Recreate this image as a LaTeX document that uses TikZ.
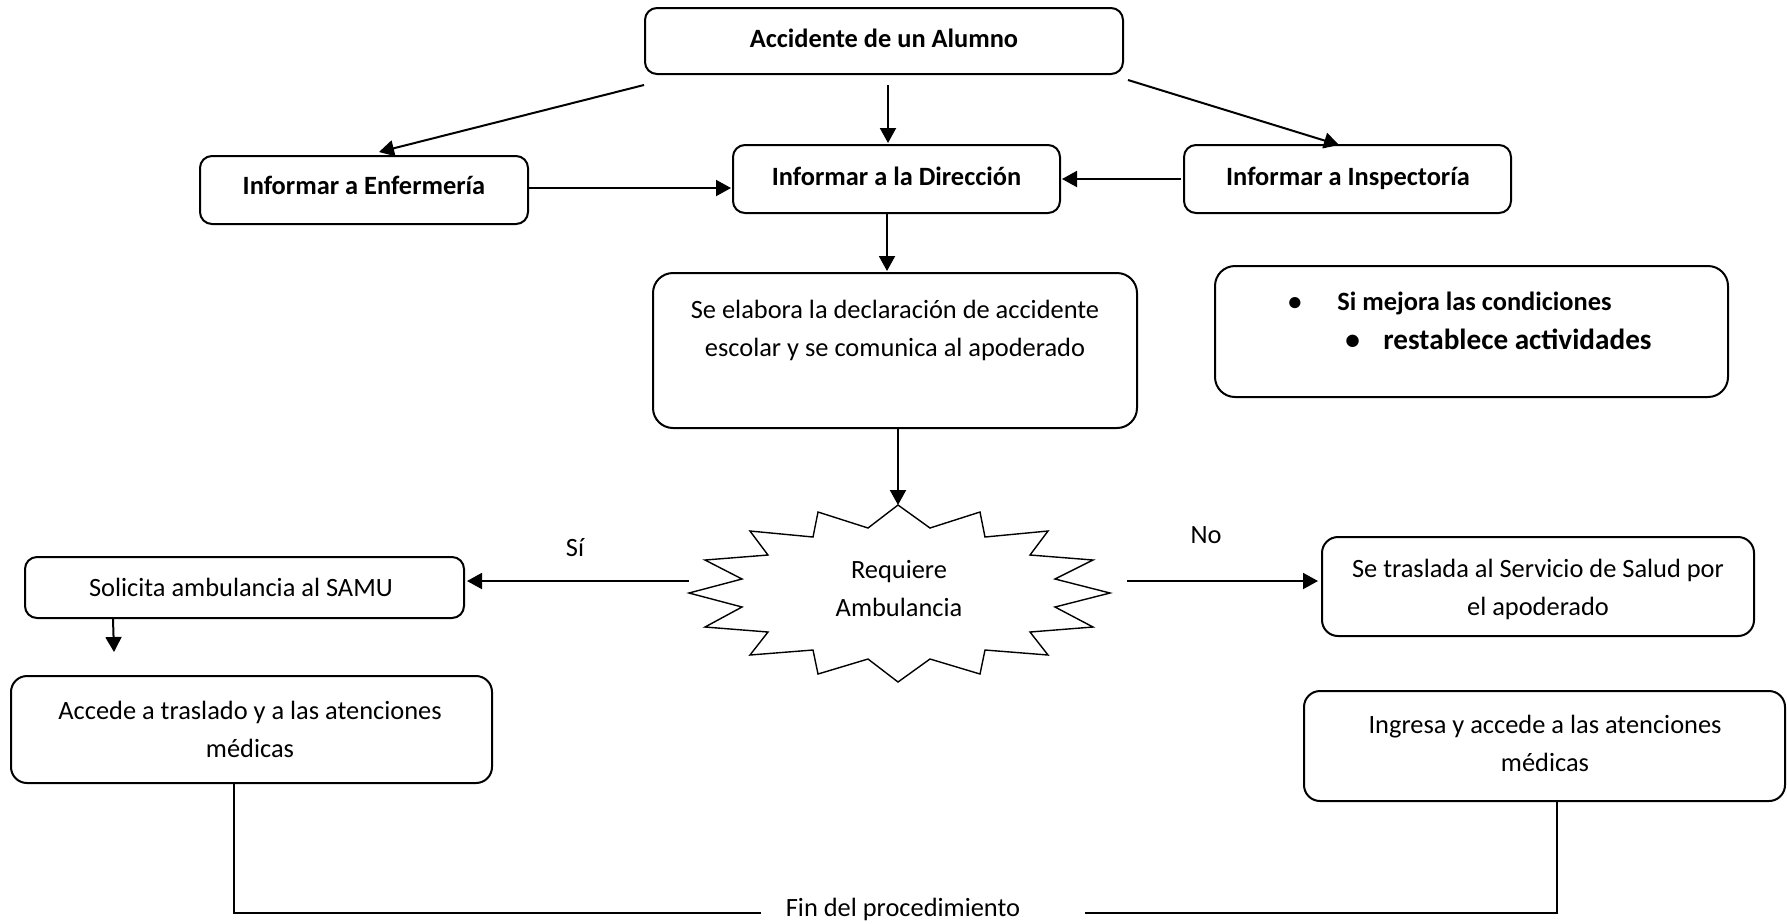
\documentclass[tikz,border=0pt]{standalone}
\usepackage{fontspec}
\setmainfont{Carlito}
\usetikzlibrary{arrows.meta,calc}
\begin{document}
\begin{tikzpicture}[x=0.5pt,y=-0.5pt,
  box/.style={draw, line width=1pt, rounded corners=6pt, inner sep=0pt},
  arr/.style={line width=1pt, -{Triangle[length=7.5pt,width=8pt]}},
  ln/.style={line width=1pt},
  txt/.style={inner sep=0pt, font=\fontsize{13.2}{19}\selectfont, anchor=base, align=center},
  btxt/.style={inner sep=0pt, font=\fontsize{13.2}{19}\selectfont\bfseries, anchor=base, align=center},
  star/.style={line width=0.7pt, line join=miter}]
\path[use as bounding box] (0,0) rectangle (1787,923);

% boxes
\node[box, minimum width=239pt, minimum height=33pt] (acc) at (884,41) {};
\node[box, minimum width=164pt, minimum height=34pt] (enf) at (364,190) {};
\node[box, minimum width=163.5pt, minimum height=34pt] (dir) at (896.5,179) {};
\node[box, minimum width=163.5pt, minimum height=34pt] (insp) at (1347.5,179) {};
\node[box, rounded corners=10pt, minimum width=242pt, minimum height=77.5pt] (elab) at (895,350.5) {};
\node[box, rounded corners=10pt, minimum width=256.5pt, minimum height=65.5pt] (mej) at (1471.5,331.5) {};
\node[box, minimum width=219.5pt, minimum height=30.5pt] (sol) at (244.5,587.5) {};
\node[box, rounded corners=8pt, minimum width=240.5pt, minimum height=53.5pt] (acce) at (251.5,729.5) {};
\node[box, rounded corners=8pt, minimum width=216pt, minimum height=49.5pt] (tras) at (1538,586.5) {};
\node[box, rounded corners=8pt, minimum width=240.5pt, minimum height=55pt] (ingr) at (1544.5,746) {};

% starburst
\draw[star] (898,505) -- (930,528) -- (980,512) -- (985,537) -- (1048,531) -- (1030,555)
  -- (1093,560) -- (1055,579) -- (1110,593) -- (1055,607) -- (1093,627) -- (1030,632)
  -- (1048,655) -- (985,650) -- (980,674) -- (930,659) -- (898,682) -- (868,659)
  -- (818,674) -- (813,650) -- (750,655) -- (768,632) -- (705,627) -- (742,607)
  -- (689,593) -- (742,579) -- (705,560) -- (768,555) -- (750,531) -- (813,537)
  -- (818,512) -- (868,528) -- cycle;
\coordinate (stTop) at (898,505);
\coordinate (stLeft) at (689,593);
\coordinate (stRight) at (1110,593);

% texts (multi-line nodes: base = last line)
\node[btxt] (tacc) at (884,47) {Accidente de un Alumno};
\node[btxt] (tenf) at (364,194) {Informar a Enfermería};
\node[btxt] (tdir) at (896.5,185) {Informar a la Dirección};
\node[btxt] (tinsp) at (1348,185) {Informar a Inspectoría};
\node[txt] (telab) at (895,356) {Se elabora la declaración de accidente\\escolar y se comunica al apoderado};
\node[btxt, anchor=base west] (tm1) at (1288,310) {\makebox[24.5pt][l]{\textbullet}Si mejora las condiciones};
\node[btxt, anchor=base west, font=\fontsize{14.6}{19}\selectfont\bfseries] (tm2) at (1345,349) {\makebox[19pt][l]{\textbullet}restablece actividades};
\node[txt] (treq) at (899,616) {Requiere\\Ambulancia};
\node[txt] (tsol) at (241,596) {Solicita ambulancia al SAMU};
\node[txt] (tacce) at (250,757) {Accede a traslado y a las atenciones\\médicas};
\node[txt] (ttras) at (1538,615.5) {Se traslada al Servicio de Salud por\\el apoderado};
\node[txt] (tingr) at (1545,771) {Ingresa y accede a las atenciones\\médicas};
\node[txt] (si) at (575,556) {Sí};
\node[txt] (no) at (1206,543) {No};
\node[txt] (fin) at (903,916) {Fin del procedimiento};

% connectors
\draw[arr] ($(acc.south west)+(0,10)$) -- ($(enf.north)+(15,-3)$);
\draw[arr] ($(acc.south)+(4,10)$) -- ($(dir.north)+(-8.5,-1)$);
\draw[arr] ($(acc.south east)+(4,5)$) -- ($(insp.north)+(-8.5,1)$);
\draw[arr] ($(enf.east)+(0,-2)$) -- ($(dir.west)+(-1,9)$);
\draw[arr] ($(insp.west)+(-2,0)$) -- ($(dir.east)+(1,0)$);
\draw[arr] ($(dir.south)+(-9.5,0)$) -- ($(elab.north)+(-8,-1)$);
\draw[arr] ($(elab.south)+(3,0)$) -- (stTop);
\draw[arr] ($(stLeft)+(0,-12)$) -- ($(sol.east)+(2,-6.5)$);
\draw[arr] ($(stRight)+(17,-12)$) -- ($(tras.west)+(-3,-5.5)$);
\coordinate (c1) at (114,652);
\draw[arr] ($(sol.south west)+(89,0)$) -- (c1);
\coordinate (finL) at (761,913);
\coordinate (finR) at (1085,913);
\draw[ln] ($(acce.south)+(-17.5,0)$) |- (finL);
\draw[ln] ($(ingr.south)+(12.5,0)$) |- (finR);
\end{tikzpicture}
\end{document}
